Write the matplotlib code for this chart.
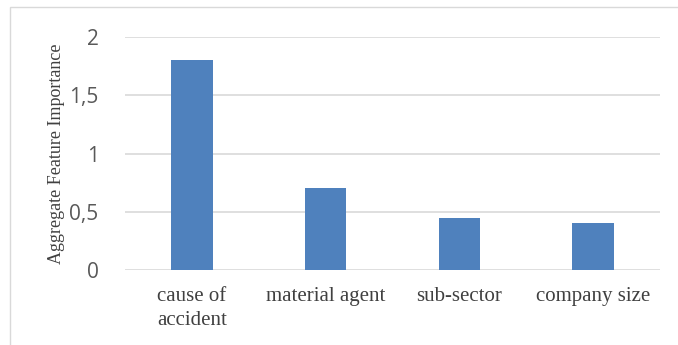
import matplotlib
matplotlib.use("Agg")
import matplotlib.pyplot as plt
from matplotlib.patches import Rectangle

categories = ["cause of\naccident", "material agent", "sub-sector", "company size"]
values = [1.8, 0.7, 0.45, 0.4]
yticks = [0, 0.5, 1, 1.5, 2]
ytick_labels = ["0", "0,5", "1", "1,5", "2"]

W, H = 678, 345
fig = plt.figure(figsize=(W / 100, H / 100), dpi=100)
ax = fig.add_axes([125 / W, 1 - 270 / H, (660 - 125) / W, (270 - 37) / H])

x = list(range(len(categories)))
ax.bar(x, values, width=0.31, color="#4f81bd", zorder=3)
ax.set_xlim(-0.5, len(categories) - 0.5)
ax.set_ylim(0, 2)
ax.set_yticks(yticks)
ax.set_yticklabels(ytick_labels, fontfamily="Open Sans", fontsize=15, color="#595959")
ax.set_xticks(x)
ax.set_xticklabels(categories, fontfamily="Liberation Serif", fontsize=15, color="#404040", linespacing=1.35)
ax.tick_params(axis="both", length=0)
ax.tick_params(axis="y", pad=19)
ax.tick_params(axis="x", pad=12)
for s in ax.spines.values():
    s.set_visible(False)
ax.grid(axis="y", color="#d9d9d9", linewidth=1.2, zorder=0)
ax.set_ylabel("Aggregate Feature Importance", fontfamily="Liberation Serif", fontsize=13, color="#404040", labelpad=3)

fig.patches.append(Rectangle((10 / W, -0.1), 2, 1 - 7 / H + 0.1, transform=fig.transFigure,
                             fill=False, edgecolor="#d9d9d9", linewidth=1.0))

fig.savefig("out.png", dpi=100)
